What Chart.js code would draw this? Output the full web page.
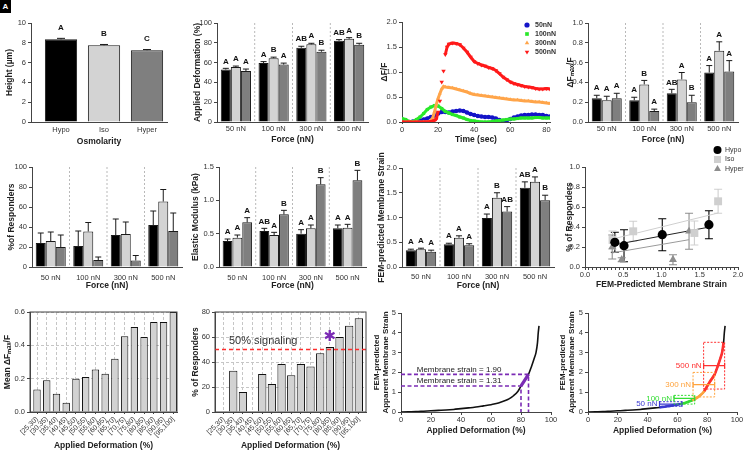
<!DOCTYPE html>
<html>
<head>
<meta charset="utf-8">
<title>Osmolarity / force figure</title>
<script src="https://cdn.jsdelivr.net/npm/chart.js@4.4.1/dist/chart.umd.min.js"></script>
<style>
  body { margin: 0; background: #fff; }
  #fig { position: relative; width: 744px; height: 452px; overflow: hidden; }
  .cell { position: absolute; }
  #tag { position: absolute; left: 0; top: 0; width: 11px; height: 13px; background: #000; color: #fff;
         font: bold 8px 'Liberation Sans', Arial, sans-serif; text-align: center; line-height: 13px; z-index: 5; }
</style>
</head>
<body>
<div id="fig"><div id="tag">A</div></div>
<script>
const FONT = "'Liberation Sans', Arial, sans-serif";
Chart.defaults.font.family = FONT;
Chart.defaults.color = '#333';
Chart.defaults.animation = false;
Chart.defaults.events = [];
Chart.defaults.plugins.legend.display = false;
Chart.defaults.plugins.tooltip.enabled = false;

// ---------- data ----------
const osmoLabels = ['Hypo', 'Iso', 'Hyper'];
const heightMean = [8.35, 7.75, 7.25];
const heightErr = [0.1, 0.08, 0.07];
const heightLetters = ['A', 'B', 'C'];

const forceLabels = ['50 nN', '100 nN', '300 nN', '500 nN'];
const groupNames = ['Hypo', 'Iso', 'Hyper'];

// applied deformation (%)
const deformHypo = [53, 59.5, 75, 82];
const deformIso = [55.5, 64.5, 78.5, 84];
const deformHyper = [51.5, 58, 71, 78];
const deformErrHypo = [1.2, 1.5, 1.5, 1.2];
const deformErrIso = [1, 1, 1, 1.2];
const deformErrHyper = [2, 1.5, 1.5, 1.5];
const deformLetHypo = ['A', 'A', 'AB', 'AB'];
const deformLetIso = ['A', 'B', 'A', 'A'];
const deformLetHyper = ['A', 'A', 'B', 'B'];

// calcium traces (dF/F over time)
const traceT = [0,2,4,6,8,10,12,14,16,18,20,22,24,26,28,30,32,34,36,38,40,42,44,46,48,50,52,54,56,58,60,62,64,66,68,70,72,74,76,78,80,82];
const trace50 = [0,0,0,0.01,0.02,0.03,0.05,0.07,0.1,0.13,0.17,0.2,0.2,0.19,0.21,0.22,0.23,0.22,0.19,0.16,0.14,0.12,0.11,0.1,0.1,0.09,0.07,0.04,0.01,0.03,0.06,0.09,0.11,0.13,0.14,0.14,0.15,0.15,0.14,0.14,0.12,0.11];
const trace100 = [0.07,0.05,0.01,0.01,0.05,0.1,0.17,0.25,0.3,0.33,0.32,0.27,0.21,0.18,0.15,0.13,0.1,0.08,0.05,0.03,0.02,0.01,0,0,0,0.01,0.02,0.03,0.04,0.05,0.06,0.06,0.07,0.08,0.08,0.08,0.08,0.09,0.09,0.08,0.08,0.08];
const trace300T = [0,4,8,12,15,16,17,18,19,20,21,22,23,24,26,28,30,32,34,36,38,40,42,44,46,48,50,52,54,56,58,60,62,64,66,68,70,72,74,76,78,80,82];
const trace300 = [0,0,0,0,0.01,0.03,0.08,0.2,0.35,0.47,0.57,0.66,0.71,0.7,0.69,0.68,0.66,0.64,0.62,0.6,0.57,0.55,0.54,0.53,0.52,0.51,0.5,0.49,0.48,0.47,0.46,0.45,0.44,0.44,0.43,0.42,0.42,0.41,0.4,0.4,0.39,0.38,0.37];
const trace500T = [0,4,8,12,16,18,19,20,21,22,23,24,25,26,28,30,32,34,36,38,40,42,44,46,48,50,52,54,56,58,60,62,64,66,68,70,72,74,76,78,80,82];
const trace500 = [0,0,0,0,0.01,0.03,0.06,0.2,0.42,0.8,1.02,1.35,1.5,1.56,1.58,1.57,1.55,1.48,1.4,1.3,1.21,1.17,1.14,1.12,1.09,1.07,1.03,0.97,0.9,0.85,0.8,0.77,0.75,0.73,0.71,0.7,0.69,0.67,0.66,0.66,0.67,0.66];
const traceNames = ['50nN', '100nN', '300nN', '500nN'];

// peak dFmax/F
const peakHypo = [0.24, 0.22, 0.29, 0.5];
const peakIso = [0.22, 0.38, 0.43, 0.72];
const peakHyper = [0.24, 0.11, 0.2, 0.51];
const peakErrHypo = [0.03, 0.03, 0.04, 0.07];
const peakErrIso = [0.04, 0.04, 0.07, 0.09];
const peakErrHyper = [0.05, 0.02, 0.07, 0.11];
const peakLetHypo = ['A', 'A', 'AB', 'A'];
const peakLetIso = ['A', 'B', 'A', 'A'];
const peakLetHyper = ['A', 'A', 'B', 'A'];

// % of responders
const respHypo = [24, 21, 32, 42];
const respIso = [26, 35.5, 33, 65.5];
const respHyper = [20, 7, 6.5, 36];
const respErrHypo = [10, 15, 16, 14];
const respErrIso = [9, 9, 12, 12];
const respErrHyper = [12, 3, 5, 18];

// elastic modulus (kPa)
const modHypo = [0.39, 0.54, 0.5, 0.58];
const modIso = [0.44, 0.48, 0.58, 0.59];
const modHyper = [0.67, 0.79, 1.24, 1.3];
const modErrHypo = [0.03, 0.04, 0.06, 0.05];
const modErrIso = [0.04, 0.04, 0.05, 0.05];
const modErrHyper = [0.07, 0.06, 0.1, 0.15];
const modLetHypo = ['A', 'AB', 'A', 'A'];
const modLetIso = ['A', 'A', 'A', 'A'];
const modLetHyper = ['A', 'B', 'B', 'B'];

// FEM membrane strain
const strainHypo = [0.34, 0.46, 0.99, 1.6];
const strainIso = [0.36, 0.59, 1.4, 1.72];
const strainHyper = [0.31, 0.44, 1.12, 1.35];
const strainErrHypo = [0.02, 0.02, 0.08, 0.12];
const strainErrIso = [0.02, 0.04, 0.1, 0.1];
const strainErrHyper = [0.03, 0.03, 0.1, 0.1];
const strainLetHypo = ['A', 'A', 'A', 'AB'];
const strainLetIso = ['A', 'A', 'B', 'A'];
const strainLetHyper = ['A', 'A', 'AB', 'B'];

// responders vs strain
const hypoStrainX = [0.39, 0.51, 1.01, 1.62];
const hypoRespY = [0.247, 0.213, 0.323, 0.423];
const hypoRespErr = [0.1, 0.16, 0.16, 0.14];
const isoStrainX = [0.36, 0.63, 1.43, 1.74];
const isoRespY = [0.27, 0.357, 0.34, 0.657];
const isoRespErr = [0.09, 0.1, 0.12, 0.12];
const hyperStrainX = [0.356, 0.48, 1.15, 1.36];
const hyperRespY = [0.2, 0.073, 0.073, 0.357];
const hyperRespErr = [0.12, 0.02, 0.05, 0.18];
const fitHypoX = [0.39, 1.63], fitHypoY = [0.223, 0.4];
const fitIsoX = [0.36, 1.74], fitIsoY = [0.28, 0.54];
const fitHyperX = [0.35, 1.36], fitHyperY = [0.14, 0.273];

// binned by applied deformation
const binLabels = ['[25,30)', '[30,35)', '[35,40)', '[40,45)', '[45,50)', '[50,55)', '[55,60)', '[60,65)',
  '[65,70)', '[70,75)', '[75,80)', '[80,85)', '[85,90)', '[90,95)', '[95,100]'];
const binMeanPeak = [0.135, 0.19, 0.11, 0.055, 0.2, 0.21, 0.255, 0.23, 0.32, 0.455, 0.51, 0.45, 0.54, 0.54, 0.6];
const binRespPct = [0, 33, 16, 0, 30.5, 22.5, 38.5, 29.5, 38.5, 36.5, 47, 52, 60, 69, 75];
const signalLevel = 50;
const signalText = '50% signaling';
const starBin = '[80,85)';
const starLevel = 60;

// FEM strain vs applied deformation curve
const curveX = [0, 5, 10, 15, 20, 25, 30, 35, 40, 45, 48, 50, 55, 60, 62, 65, 70, 72, 75, 78, 80, 82, 85, 87, 89, 90, 91, 91.5, 92];
const curveY = [0, 0.01, 0.02, 0.04, 0.06, 0.08, 0.1, 0.13, 0.17, 0.21, 0.23, 0.25, 0.31, 0.37, 0.4, 0.46, 0.59, 0.66, 0.82, 1.05, 1.31, 1.55, 1.9, 2.3, 2.75, 3.0, 3.5, 4.0, 4.35];
const guideDeform = [85, 80];
const guideStrain = [1.90, 1.31];
const guideText = ['Membrane strain = 1.90', 'Membrane strain = 1.31'];

const rangeForces = ['50 nN', '100 nN', '300 nN', '500 nN'];
const rangeDeformLo = [48, 57.7, 70.5, 77.6];
const rangeDeformHi = [63, 71.6, 85, 91.7];
const rangeStrainLo = [0.29, 0.4, 0.76, 1.16];
const rangeStrainHi = [0.52, 0.84, 2.0, 3.52];
const rangeStrainMid = [0.4, 0.69, 1.38, 2.34];
const segLo = [48, 62, 70, 78];
const segHi = [62, 72, 85, 91];

// ---------- styles ----------
const groupColors = ['#000000', '#d3d3d3', '#7f7f7f'];
const traceColors = ['#1414c8', '#2ae82a', '#ffa54a', '#ff1a1a'];
const rangeColors = ['#3a3ad0', '#33dd33', '#ffa33d', '#ff3030'];
const purple = '#7b2bb5';

const catRange = (lo, hi) => s => { s._startValue = lo; s._valueRange = hi - lo; };

function yAxis(min, max, step, dec, title, titlePad, extra) {
  return Object.assign({
    type: 'linear', min, max,
    ticks: { stepSize: step, maxTicksLimit: 100, font: { size: 7.5 }, color: '#333', padding: 2,
      callback: v => dec == null ? v : Number(v).toFixed(dec) },
    grid: { drawOnChartArea: false, tickLength: 3, color: '#444' },
    border: { color: '#444' },
    title: { display: true, text: title, font: { size: 8.5, weight: 'bold' }, color: '#222',
      padding: { top: titlePad, bottom: 0 } }
  }, extra || {});
}

function xCat(title, tickPad, titlePad, extra) {
  return Object.assign({
    type: 'category',
    ticks: { font: { size: 7.5 }, color: '#333', padding: tickPad, autoSkip: false, maxRotation: 0 },
    grid: { drawOnChartArea: false, drawTicks: false, color: '#444' },
    border: { color: '#444' },
    title: { display: true, text: title, font: { size: 8.5, weight: 'bold' }, color: '#222',
      padding: { top: 0, bottom: titlePad } }
  }, extra || {});
}

function xLin(min, max, step, title, tickPad, titlePad, extra) {
  return Object.assign({
    type: 'linear', min, max,
    ticks: { stepSize: step, maxTicksLimit: 100, font: { size: 7.5 }, color: '#333', padding: tickPad, autoSkip: false, maxRotation: 0 },
    grid: { drawOnChartArea: false, tickLength: 3, color: '#444' },
    border: { color: '#444' },
    title: { display: true, text: title, font: { size: 8.5, weight: 'bold' }, color: '#222',
      padding: { top: 0, bottom: titlePad } }
  }, extra || {});
}

function groupSets(vals, errs, lets) {
  return vals.map((v, k) => ({
    label: groupNames[k], data: v, err: errs[k], letters: lets ? lets[k] : null,
    backgroundColor: groupColors[k], borderColor: '#1a1a1a', borderWidth: 1,
    categoryPercentage: 0.8, barPercentage: 1
  }));
}

function makePanel(cell, plot, config, extra) {
  const [cx, cy, cw, ch] = cell, [x0, y0, x1, y1] = plot;
  const box = document.createElement('div');
  box.className = 'cell';
  box.style.cssText = `left:${cx}px;top:${cy}px;width:${cw}px;height:${ch}px`;
  const cv = document.createElement('canvas');
  box.appendChild(cv);
  document.getElementById('fig').appendChild(box);
  const sc = config.options.scales;
  sc.x.afterFit = s => { s.height = cy + ch - y1; };
  sc.y.afterFit = s => { s.width = x0 - cx; };
  config.options.responsive = true;
  config.options.maintainAspectRatio = false;
  config.options.layout = { padding: { left: 0, top: y0 - cy, right: cx + cw - x1, bottom: 0 } };
  config.plugins = extra || [];
  return new Chart(cv, config);
}

// error bars + significance letters on bar charts
Chart.register({
  id: 'errbars',
  afterDatasetsDraw(chart) {
    if (chart.config.type !== 'bar') return;
    const ctx = chart.ctx, ys = chart.scales.y;
    chart.data.datasets.forEach((ds, i) => {
      if (!ds.err) return;
      chart.getDatasetMeta(i).data.forEach((bar, j) => {
        const top = ys.getPixelForValue(ds.data[j] + ds.err[j]);
        const half = Math.min(bar.width * 0.3, 4);
        ctx.save();
        ctx.strokeStyle = '#1a1a1a'; ctx.lineWidth = 1;
        ctx.beginPath();
        ctx.moveTo(bar.x, bar.y); ctx.lineTo(bar.x, top);
        ctx.moveTo(bar.x - half, top); ctx.lineTo(bar.x + half, top);
        ctx.stroke();
        if (ds.letters) {
          ctx.fillStyle = '#111'; ctx.font = `bold 8px ${FONT}`;
          ctx.textAlign = 'center'; ctx.textBaseline = 'bottom';
          ctx.fillText(ds.letters[j], bar.x, top - (ds.letterGap || 3));
        }
        ctx.restore();
      });
    });
  }
});

// dotted separators between force groups
const seps = {
  id: 'seps',
  beforeDatasetsDraw(chart) {
    const xs = chart.scales.x, a = chart.chartArea, ctx = chart.ctx;
    ctx.save();
    ctx.strokeStyle = '#a8a8a8'; ctx.lineWidth = 0.8; ctx.setLineDash([2, 2]);
    for (let i = 0; i < xs.ticks.length - 1; i++) {
      const x = (xs.getPixelForValue(i) + xs.getPixelForValue(i + 1)) / 2;
      ctx.beginPath(); ctx.moveTo(x, a.top); ctx.lineTo(x, a.bottom); ctx.stroke();
    }
    ctx.restore();
  }
};

const frame = {
  id: 'frame',
  afterDraw(chart) {
    const a = chart.chartArea, ctx = chart.ctx;
    ctx.save(); ctx.strokeStyle = '#444'; ctx.lineWidth = 1;
    ctx.strokeRect(a.left, a.top, a.right - a.left, a.bottom - a.top);
    ctx.restore();
  }
};

// ---------- A: height ----------
makePanel([0, 0, 186, 150], [31, 23, 167, 122], {
  type: 'bar',
  data: { labels: osmoLabels, datasets: [{
    data: heightMean, err: heightErr, letters: heightLetters, letterGap: 7,
    backgroundColor: groupColors, borderColor: '#1a1a1a', borderWidth: 1,
    categoryPercentage: 1, barPercentage: 0.75 }] },
  options: { scales: {
    x: xCat('Osmolarity', 3, 3.2, { afterBuildTicks: catRange(-0.698, 2.465) }),
    y: yAxis(0, 10, 2, null, 'Height (µm)', 4.9)
  } }
});

// ---------- B: applied deformation ----------
makePanel([186, 0, 186, 150], [217, 23, 368, 122], {
  type: 'bar',
  data: { labels: forceLabels, datasets: groupSets(
    [deformHypo, deformIso, deformHyper], [deformErrHypo, deformErrIso, deformErrHyper],
    [deformLetHypo, deformLetIso, deformLetHyper]) },
  options: { scales: {
    x: xCat('Force (nN)', 2, 4.9),
    y: yAxis(0, 100, 20, null, 'Applied Deformation (%)', 6.9)
  } }
}, [seps]);

// ---------- C: calcium traces ----------
const traceLegend = {
  id: 'traceLegend',
  afterDraw(chart) {
    const ctx = chart.ctx, a = chart.chartArea;
    ctx.save();
    ctx.font = `bold 7px ${FONT}`; ctx.textBaseline = 'middle'; ctx.textAlign = 'left';
    chart.data.datasets.forEach((ds, i) => {
      const x = a.right - 23, y = a.top + 3 + i * 9;
      ctx.fillStyle = ds.backgroundColor;
      Chart.helpers.drawPoint(ctx, { pointStyle: ds.pointStyle, rotation: ds.pointRotation || 0, radius: 2.6, borderWidth: 0 }, x, y);
      ctx.fillStyle = '#333';
      ctx.fillText(ds.label, x + 8, y);
    });
    ctx.restore();
  }
};
function traceSet(name, t, v, color, style, rot, order) {
  return {
    label: name, data: t.map((x, i) => ({ x, y: v[i] })), order,
    borderColor: color, backgroundColor: color, borderWidth: 3,
    pointStyle: style, pointRotation: rot, pointRadius: 2.2, pointBorderWidth: 0,
    showLine: true, tension: 0
  };
}
const redSet = traceSet(traceNames[3], trace500T, trace500, traceColors[3], 'triangle', 180, 1);
redSet.segment = { borderColor: c => Math.abs(c.p1.parsed.y - c.p0.parsed.y) > 0.15 ? 'transparent' : undefined };
redSet.pointRadius = 2.6;
makePanel([372, 0, 186, 150], [402, 22, 550, 122], {
  type: 'scatter',
  data: { datasets: [
    traceSet(traceNames[0], traceT, trace50, traceColors[0], 'circle', 0, 4),
    traceSet(traceNames[1], traceT, trace100, traceColors[1], 'rect', 0, 3),
    traceSet(traceNames[2], trace300T, trace300, traceColors[2], 'triangle', 0, 2),
    redSet
  ] },
  options: { scales: {
    x: xLin(0, 82, 20, 'Time (sec)', 0, 4.9, {
      grid: { drawOnChartArea: false, tickLength: 2, color: '#444' },
      ticks: { stepSize: 20, includeBounds: false, font: { size: 7.5 }, color: '#333', padding: 1, maxRotation: 0 } }),
    y: yAxis(0, 2, 0.5, 1, 'ΔF/F', 7.9)
  } }
}, [traceLegend]);

// ---------- D: peak dFmax/F ----------
makePanel([558, 0, 186, 150], [588, 23, 738, 122], {
  type: 'bar',
  data: { labels: forceLabels, datasets: groupSets(
    [peakHypo, peakIso, peakHyper], [peakErrHypo, peakErrIso, peakErrHyper],
    [peakLetHypo, peakLetIso, peakLetHyper]) },
  options: { scales: {
    x: xCat('Force (nN)', 2, 4.9),
    y: yAxis(0, 1, 0.2, 1, 'ΔFₘₐₓ/F', 7.9)
  } }
}, [seps]);

// ---------- E: % responders ----------
makePanel([0, 150, 186, 150], [32, 167, 182, 267], {
  type: 'bar',
  data: { labels: forceLabels, datasets: groupSets(
    [respHypo, respIso, respHyper], [respErrHypo, respErrIso, respErrHyper], null) },
  options: { scales: {
    x: xCat('Force (nN)', 6, 8.9),
    y: yAxis(0, 100, 20, null, '%of Responders', 6.9)
  } }
}, [seps]);

// ---------- F: elastic modulus ----------
makePanel([186, 150, 186, 150], [219, 167, 366, 267], {
  type: 'bar',
  data: { labels: forceLabels, datasets: groupSets(
    [modHypo, modIso, modHyper], [modErrHypo, modErrIso, modErrHyper],
    [modLetHypo, modLetIso, modLetHyper]) },
  options: { scales: {
    x: xCat('Force (nN)', 6, 8.9),
    y: yAxis(0, 1.5, 0.5, 1, 'Elastic Modulus (kPa)', 4.9)
  } }
}, [seps]);

// ---------- G: membrane strain ----------
makePanel([372, 150, 186, 150], [402, 168, 554, 267], {
  type: 'bar',
  data: { labels: forceLabels, datasets: groupSets(
    [strainHypo, strainIso, strainHyper], [strainErrHypo, strainErrIso, strainErrHyper],
    [strainLetHypo, strainLetIso, strainLetHyper]) },
  options: { scales: {
    x: xCat('Force (nN)', 5.5, 9.2),
    y: yAxis(0, 2, 0.5, 1, 'FEM-predicted Membrane Strain', 4.9)
  } }
}, [seps]);

// ---------- H: responders vs strain ----------
const scatterErr = {
  id: 'scatterErr',
  beforeDatasetsDraw(chart) {
    const ctx = chart.ctx, ys = chart.scales.y;
    chart.data.datasets.forEach((ds, i) => {
      if (!ds.yerr) return;
      chart.getDatasetMeta(i).data.forEach((pt, j) => {
        const v = ds.data[j].y, e = ds.yerr[j];
        const lo = ys.getPixelForValue(v - e), hi = ys.getPixelForValue(v + e);
        ctx.save(); ctx.strokeStyle = ds.borderColor; ctx.lineWidth = 1.1;
        ctx.beginPath();
        ctx.moveTo(pt.x, lo); ctx.lineTo(pt.x, hi);
        ctx.moveTo(pt.x - 4, lo); ctx.lineTo(pt.x + 4, lo);
        ctx.moveTo(pt.x - 4, hi); ctx.lineTo(pt.x + 4, hi);
        ctx.stroke(); ctx.restore();
      });
    });
  }
};
const groupLegend = {
  id: 'groupLegend',
  afterDraw(chart) {
    const ctx = chart.ctx, a = chart.chartArea;
    ctx.save();
    ctx.font = `7px ${FONT}`; ctx.textBaseline = 'middle'; ctx.textAlign = 'left';
    chart.data.datasets.filter(d => d.yerr).forEach((ds, i) => {
      const x = a.right - 20.5, y = a.top - 17 + i * 9.5;
      ctx.fillStyle = ds.backgroundColor;
      Chart.helpers.drawPoint(ctx, { pointStyle: ds.pointStyle, rotation: 0, radius: ds.pointStyle === 'rect' ? 5 : 4, borderWidth: 0 }, x, y);
      ctx.fillStyle = '#333';
      ctx.fillText(ds.label, x + 7.5, y);
    });
    ctx.restore();
  }
};
const pts = (xs, ys) => xs.map((x, i) => ({ x, y: ys[i] }));
makePanel([558, 138, 186, 162], [585, 167, 738, 267], {
  type: 'scatter',
  data: { datasets: [
    { label: 'Hypo', data: pts(hypoStrainX, hypoRespY), yerr: hypoRespErr, order: 1,
      pointStyle: 'circle', pointRadius: 4.6, backgroundColor: '#000', borderColor: '#000', pointBorderWidth: 0 },
    { label: 'Iso', data: pts(isoStrainX, isoRespY), yerr: isoRespErr, order: 2,
      pointStyle: 'rect', pointRadius: 5.6, backgroundColor: '#cfcfcf', borderColor: '#cfcfcf', pointBorderWidth: 0 },
    { label: 'Hyper', data: pts(hyperStrainX, hyperRespY), yerr: hyperRespErr, order: 3,
      pointStyle: 'triangle', pointRadius: 4.6, backgroundColor: '#8e8e8e', borderColor: '#8e8e8e', pointBorderWidth: 0 },
    { data: pts(fitHypoX, fitHypoY), showLine: true, pointRadius: 0, borderColor: '#222', borderWidth: 1, order: 4 },
    { data: pts(fitIsoX, fitIsoY), showLine: true, pointRadius: 0, borderColor: '#cfcfcf', borderWidth: 1, order: 5 },
    { data: pts(fitHyperX, fitHyperY), showLine: true, pointRadius: 0, borderColor: '#9a9a9a', borderWidth: 1, order: 6 }
  ] },
  options: { scales: {
    x: xLin(0, 2, 0.05, 'FEM-Predicted Membrane Strain', 0, 9.9, {
      ticks: { stepSize: 0.05, maxTicksLimit: 100, autoSkip: false, maxRotation: 0, font: { size: 7.5 }, color: '#333', padding: 0,
        callback: v => Math.abs(v * 2 - Math.round(v * 2)) < 1e-6 ? Number(v).toFixed(1) : '' } }),
    y: yAxis(0, 1, 0.2, 1, '% of Responders', 6.9)
  } }
}, [scatterErr, groupLegend]);

// ---------- I: mean peak by deformation bin ----------
function binX(range) {
  return {
    type: 'category', afterBuildTicks: catRange(range[0], range[1]),
    ticks: { font: { size: 7 }, color: '#333', autoSkip: false, minRotation: 45, maxRotation: 45, padding: 1 },
    grid: { offset: false, drawOnChartArea: true, color: '#c6c6c6', tickLength: 2, tickColor: '#444' },
    border: { color: '#444', dash: [3, 2] },
    title: { display: true, text: 'Applied Deformation (%)', font: { size: 8.5, weight: 'bold' }, color: '#222',
      padding: { top: 0, bottom: 1 } }
  };
}
const dashedY = { grid: { drawOnChartArea: true, color: '#c6c6c6', tickLength: 3, tickColor: '#444' }, border: { color: '#444', dash: [3, 2] } };
makePanel([0, 300, 186, 152], [30, 312, 177, 412], {
  type: 'bar',
  data: { labels: binLabels, datasets: [{ data: binMeanPeak, backgroundColor: '#d2d2d2', borderColor: '#111', borderWidth: 1,
    categoryPercentage: 1, barPercentage: 0.76 }] },
  options: { scales: {
    x: binX([-0.72, 14.38]),
    y: yAxis(0, 0.6, 0.2, 1, 'Mean ΔFₘₐₓ/F', 2.9, dashedY)
  } }
}, [frame]);

// ---------- J: % responders by deformation bin ----------
const signalMarks = {
  id: 'signalMarks',
  afterDatasetsDraw(chart) {
    const { ctx, chartArea: a, scales: { x: xs, y: ys } } = chart;
    const py = ys.getPixelForValue(signalLevel);
    ctx.save();
    ctx.strokeStyle = '#ff2d2d'; ctx.lineWidth = 1.3; ctx.setLineDash([4, 3]);
    ctx.beginPath(); ctx.moveTo(a.left, py); ctx.lineTo(a.right, py); ctx.stroke();
    ctx.setLineDash([]);
    ctx.fillStyle = '#333'; ctx.font = `11px ${FONT}`; ctx.textBaseline = 'bottom'; ctx.textAlign = 'left';
    ctx.fillText(signalText, a.left + 14, py - 3);
    ctx.fillStyle = purple; ctx.font = `15px 'DejaVu Sans'`; ctx.textAlign = 'center'; ctx.textBaseline = 'middle';
    ctx.fillText('✱', xs.getPixelForValue(starBin), ys.getPixelForValue(starLevel));
    ctx.restore();
  }
};
makePanel([186, 300, 186, 152], [215, 312, 366, 412], {
  type: 'bar',
  data: { labels: binLabels, datasets: [{ data: binRespPct, backgroundColor: '#d2d2d2', borderColor: '#111', borderWidth: 1,
    categoryPercentage: 1, barPercentage: 0.86 }] },
  options: { scales: {
    x: binX([-0.89, 14.74]),
    y: yAxis(0, 80, 20, null, '% of Responders', 4.9, dashedY)
  } }
}, [frame, signalMarks]);

// ---------- K: strain vs deformation with guides ----------
const curvePts = pts(curveX, curveY);
const strainY = {
  title: { display: true, text: ['FEM-predicted', 'Apparent Membrane Strain'], font: { size: 8, weight: 'bold', lineHeight: 1.15 },
    color: '#222', padding: { top: 0, bottom: 0 } }
};
const guides = {
  id: 'guides',
  afterDatasetsDraw(chart) {
    const { ctx, chartArea: a, scales: { x: xs, y: ys } } = chart;
    ctx.save();
    ctx.strokeStyle = purple; ctx.lineWidth = 1.6; ctx.setLineDash([4, 2.5]);
    guideStrain.forEach((s, i) => {
      const px = xs.getPixelForValue(guideDeform[i]), py = ys.getPixelForValue(s);
      ctx.beginPath(); ctx.moveTo(a.left, py); ctx.lineTo(px, py); ctx.lineTo(px, a.bottom); ctx.stroke();
    });
    ctx.setLineDash([]);
    ctx.fillStyle = '#222'; ctx.font = `8px ${FONT}`; ctx.textBaseline = 'bottom'; ctx.textAlign = 'left';
    guideStrain.forEach((s, i) => ctx.fillText(guideText[i], xs.getPixelForValue(10.5), ys.getPixelForValue(s) - 1));
    ctx.restore();
  }
};
makePanel([372, 300, 186, 152], [401, 313, 551, 412], {
  type: 'scatter',
  data: { datasets: [
    { data: curvePts.filter(p => p.x >= guideDeform[1] && p.x <= guideDeform[0]), showLine: true, pointRadius: 0,
      borderColor: purple, borderWidth: 3.2, cubicInterpolationMode: 'monotone', order: 1 },
    { data: curvePts, showLine: true, pointRadius: 0, borderColor: '#111', borderWidth: 1.6, cubicInterpolationMode: 'monotone', order: 2 }
  ] },
  options: { scales: {
    x: xLin(0, 100, 20, 'Applied Deformation (%)', 0, 16.2),
    y: yAxis(0, 5, 1, null, '', 0, strainY)
  } }
}, [guides]);

// ---------- L: strain vs deformation with force ranges ----------
const ranges = {
  id: 'ranges',
  afterDatasetsDraw(chart) {
    const { ctx, scales: { x: xs, y: ys } } = chart;
    ctx.save();
    rangeForces.forEach((name, i) => {
      const xl = xs.getPixelForValue(rangeDeformLo[i]), xr = xs.getPixelForValue(rangeDeformHi[i]);
      const yt = ys.getPixelForValue(rangeStrainHi[i]), yb = ys.getPixelForValue(rangeStrainLo[i]);
      const ym = ys.getPixelForValue(rangeStrainMid[i]);
      ctx.strokeStyle = rangeColors[i]; ctx.lineWidth = 1; ctx.setLineDash([2, 1.5]);
      ctx.strokeRect(xl, yt, xr - xl, yb - yt);
      ctx.setLineDash([]); ctx.lineWidth = 1.2;
      ctx.beginPath();
      ctx.moveTo(xl, ym); ctx.lineTo(xr, ym);
      ctx.moveTo(xl, ym - 3); ctx.lineTo(xl, ym + 3);
      ctx.moveTo(xr, ym - 3); ctx.lineTo(xr, ym + 3);
      ctx.stroke();
      ctx.fillStyle = rangeColors[i]; ctx.font = `8px ${FONT}`; ctx.textAlign = 'right'; ctx.textBaseline = 'middle';
      ctx.fillText(name, xl - 2, ym);
    });
    ctx.restore();
  }
};
const segSets = rangeForces.map((name, i) => ({
  data: curvePts.filter(p => p.x >= segLo[i] && p.x <= segHi[i]), showLine: true, pointRadius: 0,
  borderColor: rangeColors[i], borderWidth: 2.6, cubicInterpolationMode: 'monotone', order: 4 - i
}));
makePanel([558, 300, 186, 152], [588, 313, 737, 412], {
  type: 'scatter',
  data: { datasets: [
    ...segSets,
    { data: curvePts, showLine: true, pointRadius: 0, borderColor: '#111', borderWidth: 1.6, cubicInterpolationMode: 'monotone', order: 9 }
  ] },
  options: { scales: {
    x: xLin(0, 100, 20, 'Applied Deformation (%)', 0, 16.2),
    y: yAxis(0, 5, 1, null, '', 0, strainY)
  } }
}, [ranges]);
</script>
</body>
</html>
